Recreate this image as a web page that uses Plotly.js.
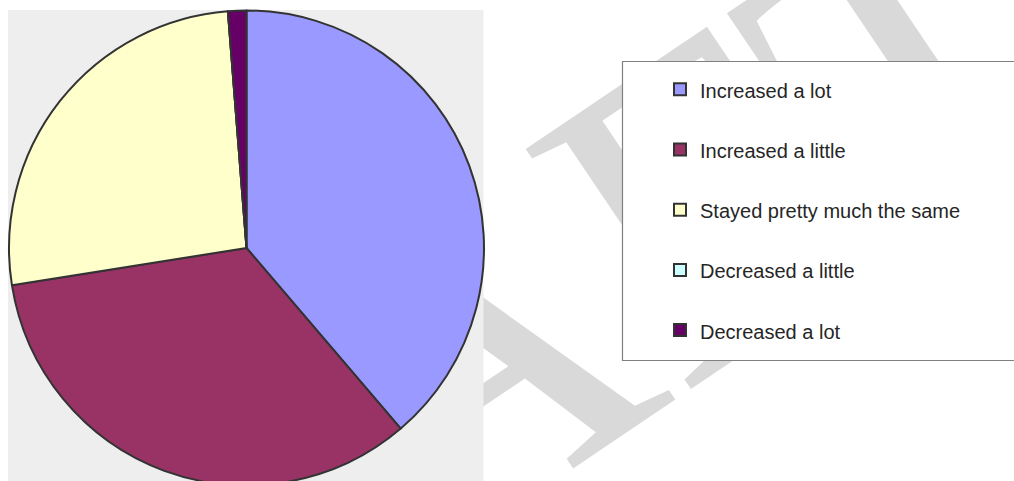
<!DOCTYPE html>
<html>
<head>
<meta charset="utf-8">
<script src="https://cdn.plot.ly/plotly-3.0.1.min.js"></script>
<style>
  html, body { margin: 0; padding: 0; width: 1014px; height: 481px; overflow: hidden; background: #ffffff; }
  #bg { position: absolute; left: 0; top: 0; width: 1014px; height: 481px; z-index: 0; }
  #chart { position: absolute; left: 0; top: 0; width: 1014px; height: 500px; z-index: 1; }
</style>
</head>
<body>
<div id="bg"></div>
<div id="chart"></div>
<script>
// ---- data ----
const categories = ['Increased a lot', 'Increased a little', 'Stayed pretty much the same', 'Decreased a little', 'Decreased a lot'];
const values = [31, 27, 21, 0, 1];
const colors = ['#9999FF', '#993366', '#FFFFCC', '#CCFFFF', '#660066'];
const watermarkText = 'DRAFT';

// ---- background watermark (drawn beneath the chart) ----
Plotly.newPlot('bg', [], {
  width: 1014, height: 481,
  margin: {l: 0, r: 0, t: 0, b: 0},
  paper_bgcolor: '#ffffff', plot_bgcolor: '#ffffff',
  xaxis: {visible: false}, yaxis: {visible: false},
  annotations: [{
    text: watermarkText,
    xref: 'paper', yref: 'paper',
    x: 419.4 / 1014, y: 1 - 390.1 / 481,
    xanchor: 'center', yanchor: 'middle',
    showarrow: false,
    textangle: -34,
    font: {family: 'Liberation Serif, "Times New Roman", serif', size: 445, color: '#d9d9d9'}
  }]
}, {staticPlot: true, displayModeBar: false});

// ---- main chart ----
const W = 1014, H = 500;
const legendLabels = categories.map(c => '<span style="font-size:20px">' + c + '</span><br>\u00a0');

const trace = {
  type: 'pie',
  labels: legendLabels,
  values: values,
  sort: false,
  direction: 'clockwise',
  rotation: 0,
  textinfo: 'none',
  hoverinfo: 'skip',
  marker: {colors: colors, line: {color: '#333333', width: 2}},
  domain: {x: [9 / W, 484 / W], y: [1 - 485.5 / H, 1 - 10.5 / H]}
};

const layout = {
  width: W, height: H,
  margin: {l: 0, r: 0, t: 0, b: 0},
  paper_bgcolor: 'rgba(0,0,0,0)',
  plot_bgcolor: 'rgba(0,0,0,0)',
  showlegend: true,
  legend: {
    x: 660 / W, xanchor: 'left',
    y: 1 - 68.5 / H, yanchor: 'top',
    bgcolor: 'rgba(0,0,0,0)',
    borderwidth: 0,
    valign: 'top',
    traceorder: 'normal',
    font: {family: '"Liberation Sans", Arial, sans-serif', size: 22, color: '#262626'}
  },
  shapes: [
    {type: 'rect', xref: 'paper', yref: 'paper', layer: 'below',
     x0: 8 / W, x1: 483.5 / W, y0: -0.05, y1: 1 - 10 / H,
     fillcolor: '#eeeeee', line: {width: 0}},
    {type: 'rect', xref: 'paper', yref: 'paper', layer: 'below',
     x0: 622.5 / W, x1: 1.02, y0: 1 - 360.5 / H, y1: 1 - 61.5 / H,
     fillcolor: '#ffffff', line: {color: '#808080', width: 1.2}}
  ]
};

Plotly.newPlot('chart', [trace], layout, {staticPlot: true, displayModeBar: false});
</script>
</body>
</html>
